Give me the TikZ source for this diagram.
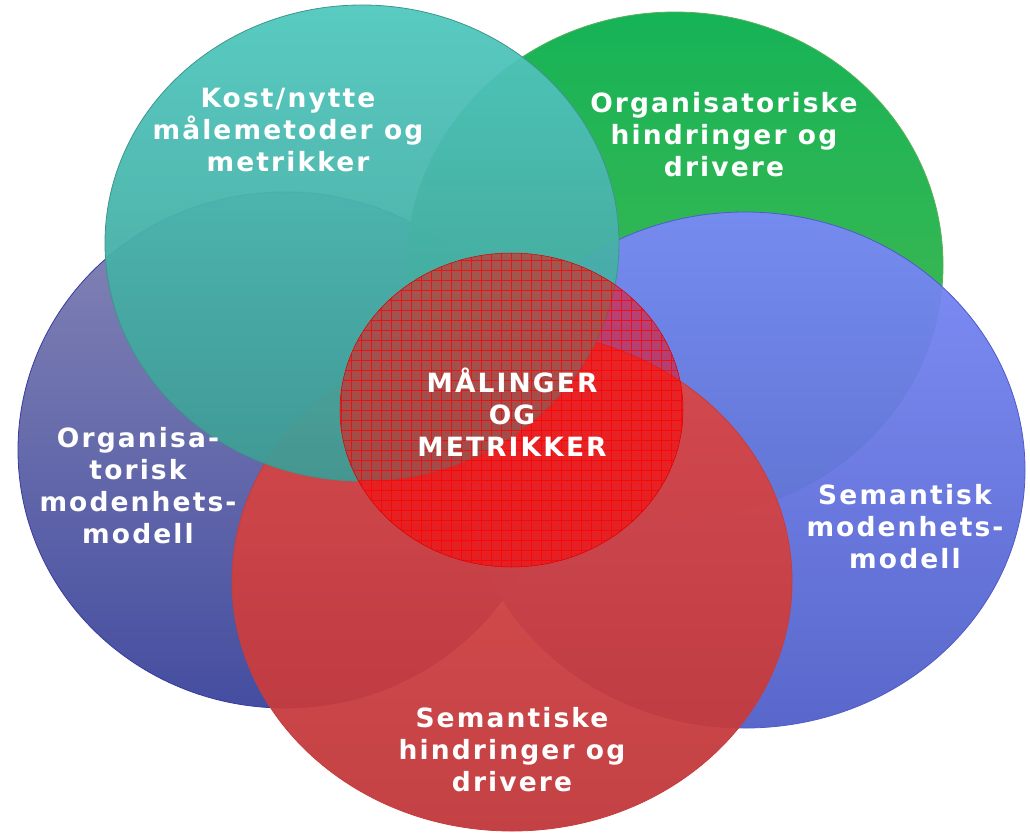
\documentclass[tikz,border=0pt]{standalone}
\usepackage{fontspec}
\newfontfamily\lblfont[LetterSpace=8]{DejaVu Sans}
\usetikzlibrary{shapes.geometric}
\definecolor{tealtop}{RGB}{80,200,190}
\definecolor{tealbot}{RGB}{62,155,148}
\definecolor{tealedge}{RGB}{60,150,140}
\definecolor{greentop}{RGB}{10,175,78}
\definecolor{greenbot}{RGB}{70,182,70}
\definecolor{greenedge}{RGB}{90,175,90}
\definecolor{bltop}{RGB}{128,128,178}
\definecolor{blbot}{RGB}{58,68,155}
\definecolor{bledge}{RGB}{55,60,160}
\definecolor{brtop}{RGB}{122,138,248}
\definecolor{brbot}{RGB}{80,95,200}
\definecolor{bredge}{RGB}{80,90,200}
\definecolor{redtop}{RGB}{218,72,72}
\definecolor{redbot}{RGB}{192,55,58}
\definecolor{rededge}{RGB}{200,60,60}
\tikzset{
  blob/.style={ellipse, inner sep=0pt, outer sep=0pt, line width=0.8pt, fill opacity=0.95},
  lbl/.style={text=white, align=center, font=\lblfont\bfseries\fontsize{26.5}{32}\selectfont, inner sep=0pt},
}
\begin{document}
\begin{tikzpicture}[x=1pt,y=-1pt]
\useasboundingbox (0,0) rectangle (1030,833);
% bottom-most: organisational maturity model
\node[blob, draw=bledge, top color=bltop, bottom color=blbot,
      minimum width=534pt, minimum height=516pt] (orgmod) at (285,450) {};
% organisational barriers
\node[blob, draw=greenedge, top color=greentop, bottom color=greenbot,
      minimum width=536pt, minimum height=506pt] (orghind) at (675,265) {};
% semantic maturity model
\node[blob, draw=bredge, top color=brtop, bottom color=brbot,
      minimum width=560pt, minimum height=516pt] (semmod) at (745,470) {};
% semantic barriers
\node[blob, draw=rededge, top color=redtop, bottom color=redbot,
      minimum width=560pt, minimum height=500pt] (semhind) at (512,581) {};
% cost/benefit
\node[blob, draw=tealedge, top color=tealtop, bottom color=tealbot,
      minimum width=514pt, minimum height=476pt] (kost) at (362,243) {};
% centre
\node[ellipse, inner sep=0pt, outer sep=0pt, draw=red!85!black, line width=0.5pt,
      fill=red, fill opacity=0.5, minimum width=343pt, minimum height=314pt,
      path picture={\draw[red, line width=0.45pt, draw opacity=0.75]
        (path picture bounding box.south west) grid[step=10pt]
        (path picture bounding box.north east);}] (maal) at (511.5,410) {};
% labels
\node[lbl] (tkost) at (288,130) {Kost/nytte\\målemetoder og\\metrikker};
\node[lbl] (torghind) at (724,135) {Organisatoriske\\hindringer og\\drivere};
\node[lbl] (torgmod) at (138,486) {Organisa-\\torisk\\modenhets-\\modell};
\node[lbl] (tsemmod) at (905,527) {Semantisk\\modenhets-\\modell};
\node[lbl] (tsemhind) at (512,750) {Semantiske\\hindringer og\\drivere};
\node[lbl] (tmaal) at (512,412) {MÅLINGER\\OG\\METRIKKER};
\end{tikzpicture}
\end{document}
